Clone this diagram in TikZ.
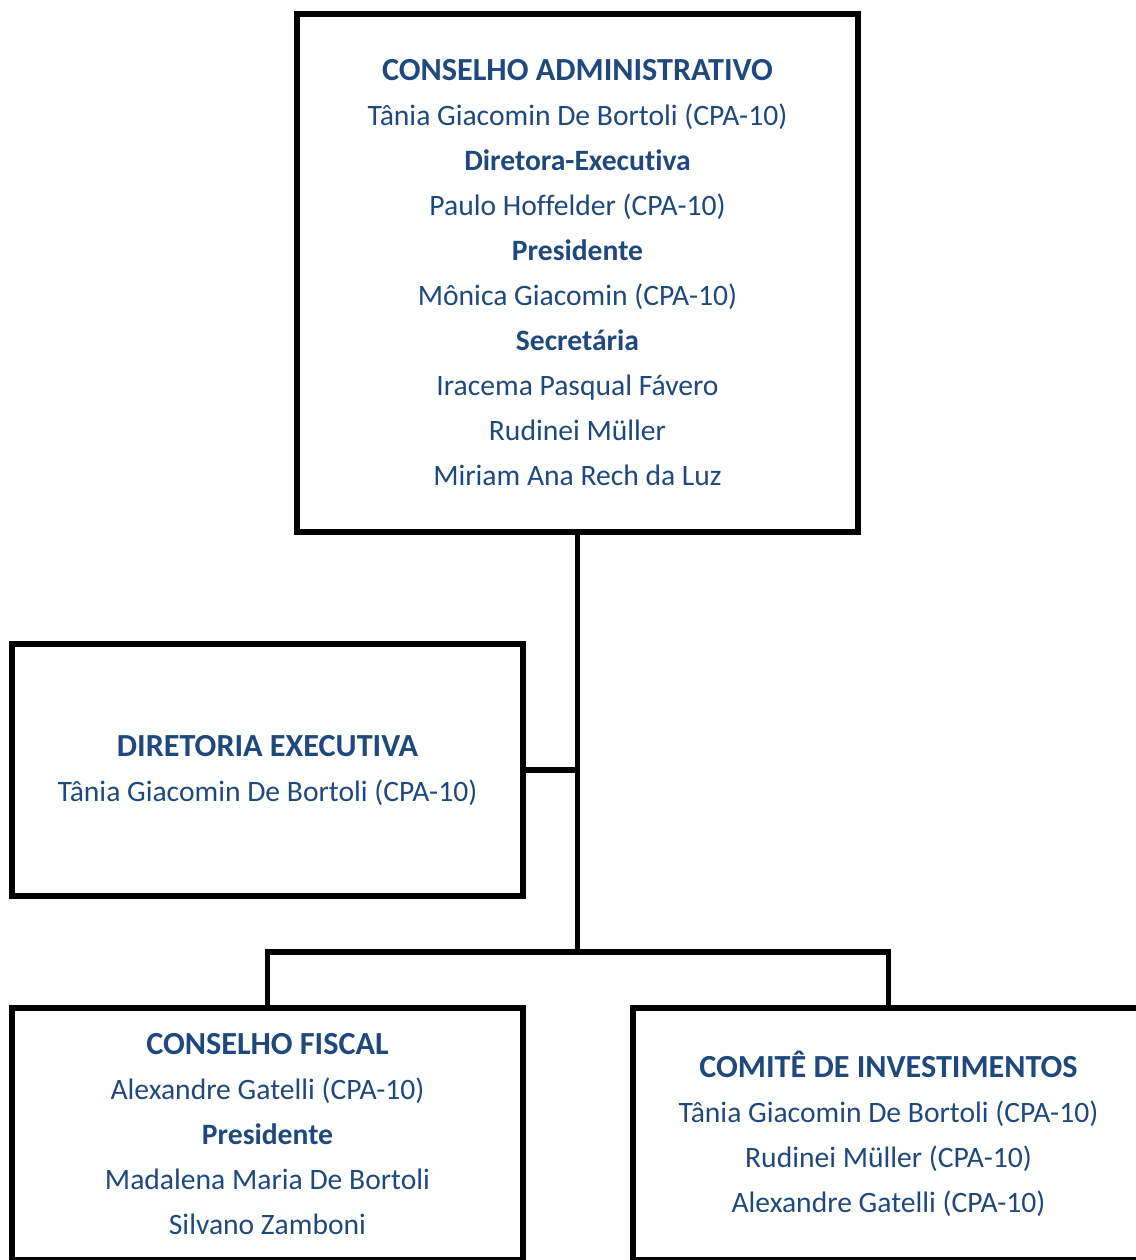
\documentclass[tikz,border=0pt]{standalone}
\usepackage{fontspec}
\setmainfont{Carlito}[Ligatures=NoCommon]
\usepackage{tikz}
\usetikzlibrary{positioning}
\usepackage{xcolor}
\definecolor{orgblue}{RGB}{31,73,125}
\tikzstyle{orgbox} = [draw=black, line width=2.6pt, inner sep=0pt, outer sep=0pt, align=center, text=orgblue, font=\fontsize{14.8}{22.5}\selectfont, minimum width=255.5pt, minimum height=126pt]
\tikzstyle{link} = [draw=black, line width=2.6pt]
\newcommand{\hd}[1]{{\fontsize{16.1}{24}\selectfont\bfseries #1}}
\newcommand{\rl}[1]{{\bfseries #1}}

\begin{document}
\begin{tikzpicture}[x=0.5pt, y=-0.5pt]
\useasboundingbox (0,0) rectangle (1136,1260);
\clip (0,0) rectangle (1136,1260);

% Conselho administrativo
\node[orgbox, minimum width=280.5pt, minimum height=259pt] (ca) at (577.5,273) {%
\hd{CONSELHO ADMINISTRATIVO}\\
Tânia Giacomin De Bortoli (CPA-10)\\
\rl{Diretora-Executiva}\\
Paulo Hoffelder (CPA-10)\\
\rl{Presidente}\\
Mônica Giacomin (CPA-10)\\
\rl{Secretária}\\
Iracema Pasqual Fávero\\
Rudinei Müller\\
Miriam Ana Rech da Luz};

% Diretoria executiva
\node[orgbox] (de) at (267.5,770) {%
\hd{DIRETORIA EXECUTIVA}\\
Tânia Giacomin De Bortoli (CPA-10)};

% Conselho fiscal
\node[orgbox] (cf) at (267.5,1134) {%
\hd{CONSELHO FISCAL}\\
Alexandre Gatelli (CPA-10)\\
\rl{Presidente}\\
Madalena Maria De Bortoli\\
Silvano Zamboni};

% Comite de investimentos
\node[orgbox] (ci) at (888.5,1134) {%
\hd{COMITÊ DE INVESTIMENTOS}\\
Tânia Giacomin De Bortoli (CPA-10)\\
Rudinei Müller (CPA-10)\\
Alexandre Gatelli (CPA-10)};

% Links
\coordinate (split) at (577.5,952);
\draw[link] (ca.south) -- (split);
\draw[link] (de.east) -- (de.east -| ca.south);
\draw[link] (cf.north) |- (split) -| (ci.north);
\end{tikzpicture}
\end{document}
